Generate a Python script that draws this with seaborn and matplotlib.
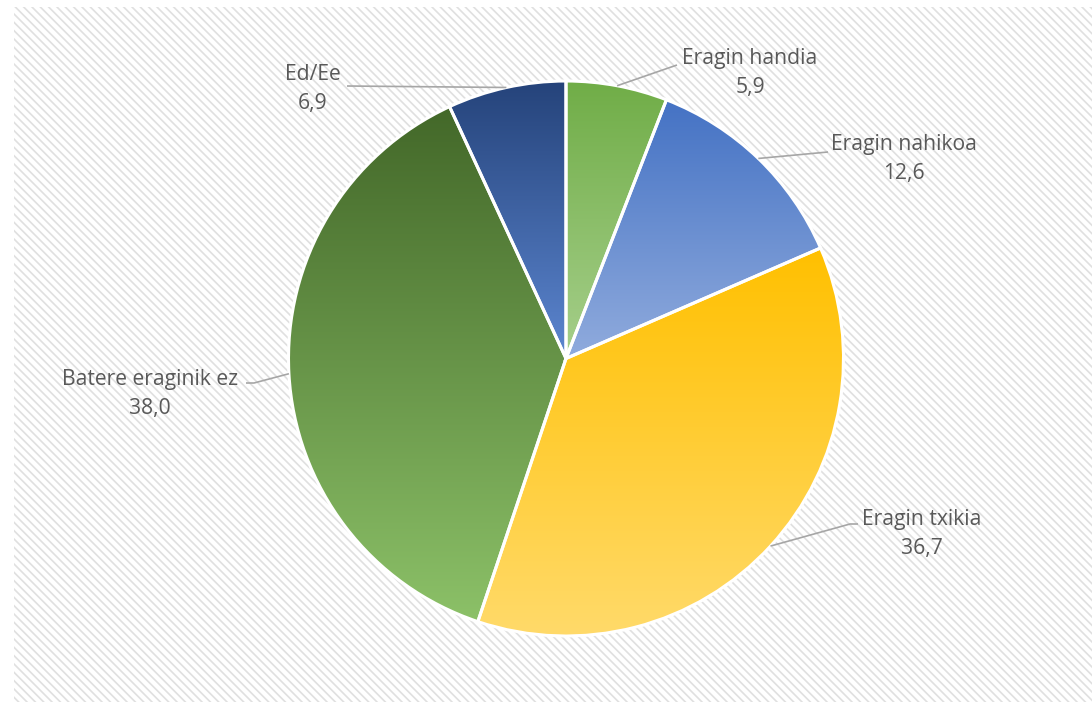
import numpy as np
import matplotlib
matplotlib.use("Agg")
import matplotlib.pyplot as plt
from matplotlib.patches import Rectangle
import seaborn as sns

# ---- data ----
categories = ["Eragin handia", "Eragin nahikoa", "Eragin txikia",
              "Batere eraginik ez", "Ed/Ee"]
values = [5.9, 12.6, 36.7, 38.0, 6.9]
# gradient colours (top, bottom) for each slice
top_colors = ["#70AD47", "#4472C4", "#FFC000", "#436829", "#25437A"]
bottom_colors = ["#A6CF8B", "#90ABDD", "#FFDA6A", "#8CC168", "#5C86D0"]

W, H = 1092, 702
sns.set_theme(style="white")
plt.rcParams["font.family"] = ["Open Sans", "DejaVu Sans"]
plt.rcParams["hatch.linewidth"] = 1.2

fig = plt.figure(figsize=(W / 100, H / 100), dpi=100)
ax = fig.add_axes([0, 0, 1, 1])
ax.set_axis_off()


def px(x, y):
    # pixel coordinates (origin top-left) -> data coordinates
    return x, H - y


# hatched chart-area background
bg = Rectangle((14, 0), W - 14, H - 7, facecolor="white", edgecolor="#e0e0e0",
               linewidth=0, hatch="\\\\\\\\", zorder=0)
ax.add_patch(bg)

center = px(566, 358.5)
radius = 277.5
wedges, _ = ax.pie(values, startangle=90, counterclock=False, center=center,
                   radius=radius, colors=top_colors,
                   wedgeprops=dict(edgecolor="white", linewidth=2.2))

# vertical gradient inside each slice
grad = np.linspace(0, 1, 256).reshape(-1, 1)
for w, c0, c1 in zip(wedges, top_colors, bottom_colors):
    ext = w.get_path().get_extents()
    cmap = sns.blend_palette([c1, c0], n_colors=256, as_cmap=True)
    im = ax.imshow(grad, cmap=cmap, origin="lower", aspect="auto",
                   extent=[ext.x0, ext.x1, ext.y0, ext.y1], zorder=2,
                   interpolation="bilinear")
    im.set_clip_path(w)
    w.set_facecolor("none")
    w.set_zorder(3)

# labels with leader lines (text centre and leader end in pixels)
label_pos = [(750, 73), (904, 159), (922, 534), (150, 394), (313, 89)]
leader_end = [[(677, 65)], [(828, 152)], [(850, 524), (858, 524)],
              [(254, 383), (246, 383)], [(347, 86)]]

for w, cat, v, (tx, ty), ends in zip(wedges, categories, values, label_pos, leader_end):
    mid = np.deg2rad((w.theta1 + w.theta2) / 2)
    ax0 = center[0] + radius * np.cos(mid)
    ay0 = center[1] + radius * np.sin(mid)
    xs = [ax0] + [e[0] for e in ends]
    ys = [ay0] + [px(*e)[1] for e in ends]
    ax.plot(xs, ys, color="#a6a6a6", linewidth=1.2, zorder=4,
            solid_capstyle="butt")
    txt = f"{cat}\n{v:.1f}".replace(".", ",")
    ax.text(*px(tx, ty), txt, ha="center", va="center", fontsize=15.2,
            color="#595959", linespacing=1.5, zorder=5)

ax.set_xlim(0, W)
ax.set_ylim(0, H)
ax.set_aspect("auto")

fig.savefig("out.png", dpi=100)
